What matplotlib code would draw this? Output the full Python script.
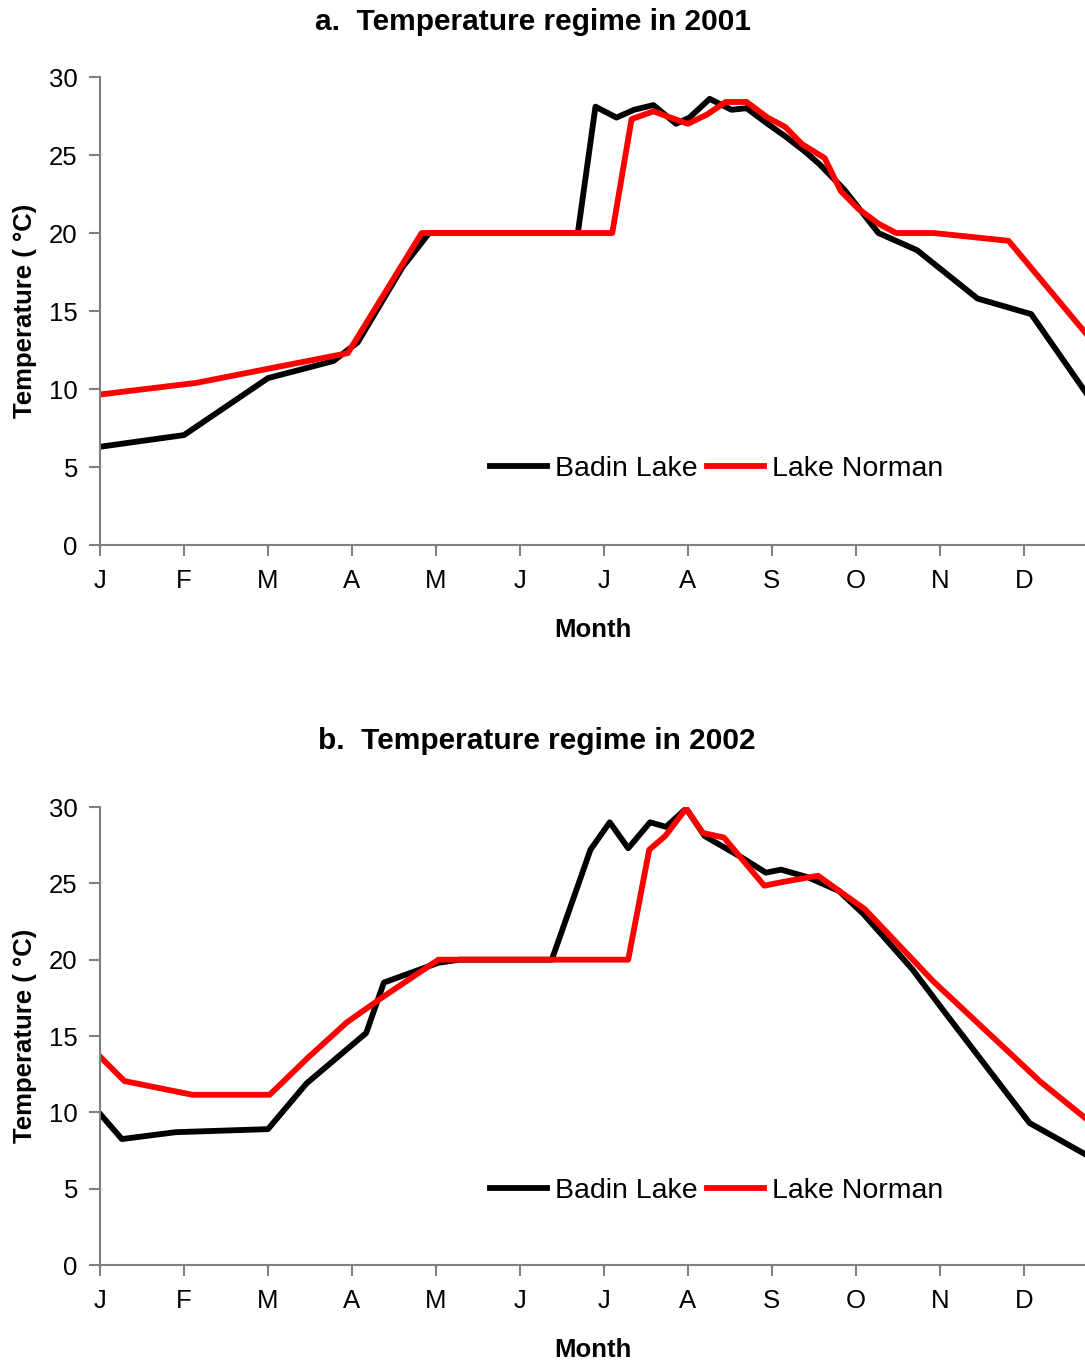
import matplotlib
matplotlib.use("Agg")
import matplotlib.pyplot as plt

plt.rcParams['font.family'] = ['Liberation Sans', 'DejaVu Sans']

month_labels = ["J", "F", "M", "A", "M", "J", "J", "A", "S", "O", "N", "D"]

# 2001 (position in months from 1 Jan, temperature in deg C)
badin_2001_m = [0, 1.0, 2.0, 2.78, 3.07, 3.6, 3.92, 5.69, 5.9, 6.15, 6.36, 6.59, 6.86,
                7.02, 7.26, 7.52, 7.70, 7.95, 8.16, 8.40, 8.57, 8.86, 9.27, 9.73,
                10.45, 11.09, 11.75]
badin_2001_t = [6.3, 7.05, 10.7, 11.8, 13.0, 17.8, 20.0, 20.0, 28.1, 27.4, 27.9, 28.2, 27.0,
                27.4, 28.6, 27.9, 28.0, 27.0, 26.2, 25.2, 24.4, 22.8, 20.0, 18.9,
                15.8, 14.8, 9.7]
norman_2001_m = [0, 1.15, 2.0, 2.95, 3.83, 6.10, 6.33, 6.59, 7.0, 7.23, 7.45, 7.70, 7.95,
                 8.16, 8.36, 8.63, 8.82, 9.02, 9.27, 9.48, 9.93, 10.82, 11.75]
norman_2001_t = [9.65, 10.4, 11.3, 12.3, 20.0, 20.0, 27.3, 27.8, 27.0, 27.6, 28.4, 28.4, 27.4,
                 26.8, 25.7, 24.8, 22.7, 21.6, 20.6, 20.0, 20.0, 19.5, 13.5]

# 2002
badin_2002_m = [0, 0.26, 0.9, 2.0, 2.46, 3.17, 3.38, 3.78, 4.03, 4.28, 5.38, 5.63, 5.84,
                6.07, 6.29, 6.55, 6.74, 6.98, 7.2, 7.64, 7.93, 8.11, 8.43, 8.80, 9.09,
                9.67, 10.04, 11.07, 11.75]
badin_2002_t = [9.9, 8.25, 8.7, 8.9, 11.9, 15.2, 18.5, 19.3, 19.8, 20.0, 20.0, 23.9, 27.2,
                29.0, 27.3, 29.0, 28.7, 29.9, 28.1, 26.7, 25.7, 25.9, 25.4, 24.5, 23.0,
                19.4, 16.7, 9.3, 7.2]
norman_2002_m = [0, 0.29, 1.1, 2.02, 2.48, 2.94, 3.38, 4.03, 6.29, 6.54, 6.73, 6.98, 7.18,
                 7.43, 7.91, 8.14, 8.55, 9.11, 9.92, 11.2, 11.75]
norman_2002_t = [13.65, 12.05, 11.15, 11.15, 13.6, 15.9, 17.6, 20.0, 20.0, 27.2, 28.1, 29.9, 28.3,
                 28.0, 24.85, 25.1, 25.5, 23.3, 18.6, 12.0, 9.55]

panels = [
    ("a.  Temperature regime in 2001", badin_2001_m, badin_2001_t, norman_2001_m, norman_2001_t),
    ("b.  Temperature regime in 2002", badin_2002_m, badin_2002_t, norman_2002_m, norman_2002_t),
]

fig = plt.figure(figsize=(10.85, 13.63), dpi=100)
axes_rects = [[0.0922, 0.6001, 0.9078, 0.3434], [0.0922, 0.0719, 0.9078, 0.3360]]
title_pos = [(0.491, 0.9839), (0.495, 0.4563)]
xlabel_y = [-0.155, -0.160]
grey = "#808080"

for i, (title, bm, bt, nm, nt) in enumerate(panels):
    ax = fig.add_axes(axes_rects[i])
    ax.plot(bm, bt, color="black", lw=4.2, label="Badin Lake")
    ax.plot(nm, nt, color="#ff0000", lw=4.2, label="Lake Norman")

    ax.set_xlim(0, 11.73)
    ax.set_ylim(0, 30)
    ax.set_xticks(range(12))
    ax.set_xticklabels(month_labels)
    ax.set_yticks(range(0, 31, 5))
    for s in ["top", "right"]:
        ax.spines[s].set_visible(False)
    for s in ["left", "bottom"]:
        ax.spines[s].set_color(grey)
        ax.spines[s].set_linewidth(1.5)
    ax.tick_params(axis="both", colors=grey, labelcolor="black", width=1.5,
                   length=8, labelsize=18.5)
    ax.tick_params(axis="y", pad=8)
    ax.tick_params(axis="x", pad=9)

    ax.set_xlabel("Month", fontsize=18.5, fontweight="bold", va="top")
    ax.xaxis.set_label_coords(0.5, xlabel_y[i])
    ax.set_ylabel("Temperature ( °C)", fontsize=18.5, fontweight="bold")
    ax.yaxis.set_label_coords(-0.064, 0.5)

    ax.legend(loc="center", bbox_to_anchor=(0.626, 0.162), ncol=2, frameon=False,
              fontsize=20.5, handlelength=2.0, handletextpad=0.3, columnspacing=0.3)

    fig.text(title_pos[i][0], title_pos[i][1], title, ha="center", va="center",
             fontsize=21.5, fontweight="bold")

fig.savefig("out.png", dpi=100)
